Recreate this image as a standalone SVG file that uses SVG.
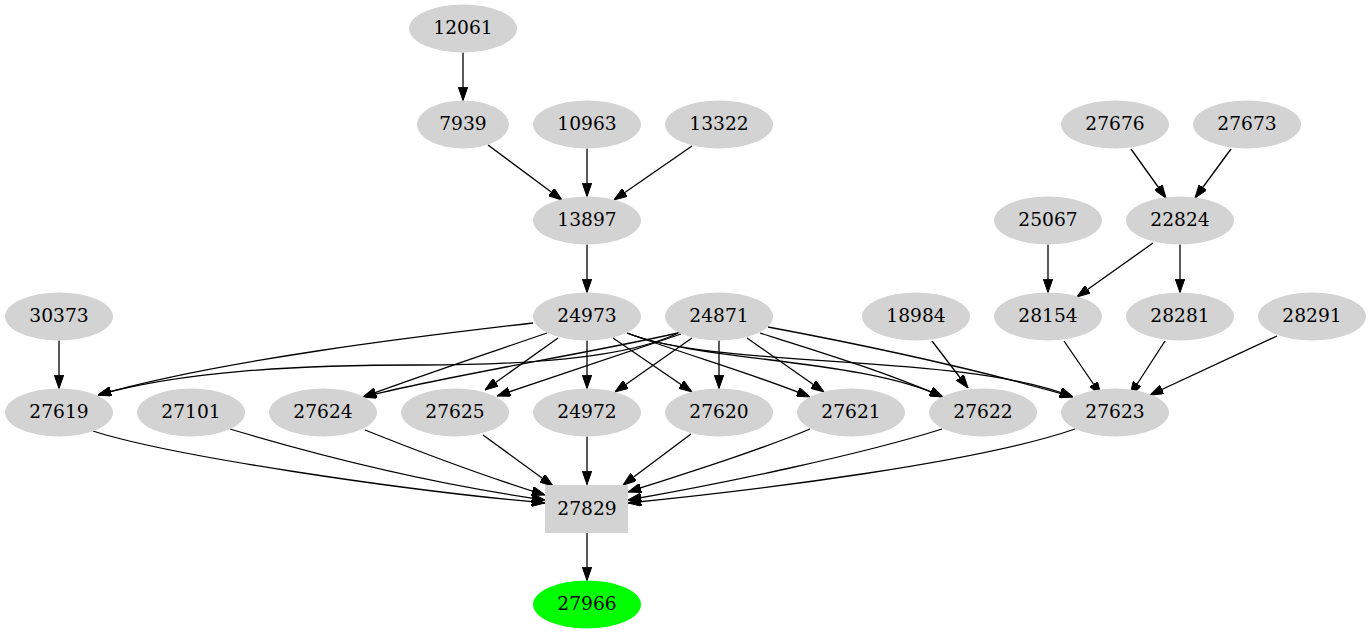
<svg xmlns="http://www.w3.org/2000/svg" width="1371" height="635" viewBox="0 0 1371 635">
<style>
.n ellipse, .n rect { fill: #d3d3d3; stroke: none; }
.g ellipse { fill: #00ff00; stroke: none; }
text { font-family: "DejaVu Serif", "Liberation Serif", serif; font-size: 18.67px; text-anchor: middle; fill: #000; }
#edges path { fill: none; stroke: #000; stroke-width: 1.3; marker-end: url(#arr); }
</style>
<defs>
<marker id="arr" markerUnits="userSpaceOnUse" viewBox="0 0 13.3 9.4" markerWidth="13.3" markerHeight="9.4" refX="13.3" refY="4.7" orient="auto">
<path d="M0,0 L13.3,4.7 L0,9.4 z" fill="#000" stroke="#000" stroke-width="1"/>
</marker>
</defs>
<rect width="1371" height="635" fill="#fff"/>
<g id="edges">
<path d="M463,52.5 L463,100.5"/>
<path d="M488,145 L562,200"/>
<path d="M587,148.5 L587,196.5"/>
<path d="M692,146 L614,200"/>
<path d="M587,244.5 L587,292.5"/>
<path d="M1131,149 L1166,198"/>
<path d="M1231,149 L1195,198"/>
<path d="M1048,244.5 L1048,292.5"/>
<path d="M1153,243 L1077,297"/>
<path d="M1180,244.5 L1180,292.5"/>
<path d="M1064,341 L1101,395"/>
<path d="M1165,341 L1130,395"/>
<path d="M1277,336 L1150,395"/>
<path d="M932,341 L968,388"/>
<path d="M59,340.5 L59,388.5"/>
<path d="M533,323 C420,336 220,360 98,395"/>
<path d="M547,333 C480,356 420,376 363,397"/>
<path d="M558,338 L485,390"/>
<path d="M587,340.5 L587,388.5"/>
<path d="M613,338 L692,392"/>
<path d="M627,333 C690,356 760,376 810,397"/>
<path d="M627,333 C700,362 860,358 943,397"/>
<path d="M627,333 C720,370 960,352 1073,397"/>
<path d="M680,332 C630,358 520,365 420,365 C290,365 180,372 98,395"/>
<path d="M678,333 C580,355 450,375 363,397"/>
<path d="M681,334 L497,396"/>
<path d="M692,338 L615,392"/>
<path d="M719,340.5 L719,388.5"/>
<path d="M747,338 L824,392"/>
<path d="M760,333 C820,352 880,370 943,397"/>
<path d="M768,327 C880,348 980,370 1073,397"/>
<path d="M93,431 C170,456 400,490 545,503"/>
<path d="M230,429 C300,450 420,482 545,500"/>
<path d="M365,430 C420,452 480,475 545,495"/>
<path d="M483,435 L553,486"/>
<path d="M587,436.5 L587,484.5"/>
<path d="M691,434 L623,485"/>
<path d="M810,429 C760,450 690,472 628,492"/>
<path d="M942,429 C860,455 720,484 628,500"/>
<path d="M1075,429 C980,462 760,490 628,503"/>
<path d="M587,532.5 L587,580.5"/>
</g>
<g id="n12061" class="n"><ellipse cx="463" cy="28.5" rx="54" ry="24"/><text x="463" y="34">12061</text></g>
<g id="n7939" class="n"><ellipse cx="463" cy="124.5" rx="46" ry="24"/><text x="463" y="130">7939</text></g>
<g id="n10963" class="n"><ellipse cx="587" cy="124.5" rx="54" ry="24"/><text x="587" y="130">10963</text></g>
<g id="n13322" class="n"><ellipse cx="719" cy="124.5" rx="54" ry="24"/><text x="719" y="130">13322</text></g>
<g id="n27676" class="n"><ellipse cx="1115" cy="124.5" rx="54" ry="24"/><text x="1115" y="130">27676</text></g>
<g id="n27673" class="n"><ellipse cx="1247" cy="124.5" rx="54" ry="24"/><text x="1247" y="130">27673</text></g>
<g id="n13897" class="n"><ellipse cx="587" cy="220.5" rx="54" ry="24"/><text x="587" y="226">13897</text></g>
<g id="n25067" class="n"><ellipse cx="1048" cy="220.5" rx="54" ry="24"/><text x="1048" y="226">25067</text></g>
<g id="n22824" class="n"><ellipse cx="1180" cy="220.5" rx="54" ry="24"/><text x="1180" y="226">22824</text></g>
<g id="n30373" class="n"><ellipse cx="59" cy="316.5" rx="54" ry="24"/><text x="59" y="322">30373</text></g>
<g id="n24973" class="n"><ellipse cx="587" cy="316.5" rx="54" ry="24"/><text x="587" y="322">24973</text></g>
<g id="n24871" class="n"><ellipse cx="719" cy="316.5" rx="54" ry="24"/><text x="719" y="322">24871</text></g>
<g id="n18984" class="n"><ellipse cx="916" cy="316.5" rx="54" ry="24"/><text x="916" y="322">18984</text></g>
<g id="n28154" class="n"><ellipse cx="1048" cy="316.5" rx="54" ry="24"/><text x="1048" y="322">28154</text></g>
<g id="n28281" class="n"><ellipse cx="1180" cy="316.5" rx="54" ry="24"/><text x="1180" y="322">28281</text></g>
<g id="n28291" class="n"><ellipse cx="1312" cy="316.5" rx="54" ry="24"/><text x="1312" y="322">28291</text></g>
<g id="n27619" class="n"><ellipse cx="59" cy="412.5" rx="54" ry="24"/><text x="59" y="418">27619</text></g>
<g id="n27101" class="n"><ellipse cx="191" cy="412.5" rx="54" ry="24"/><text x="191" y="418">27101</text></g>
<g id="n27624" class="n"><ellipse cx="323" cy="412.5" rx="54" ry="24"/><text x="323" y="418">27624</text></g>
<g id="n27625" class="n"><ellipse cx="455" cy="412.5" rx="54" ry="24"/><text x="455" y="418">27625</text></g>
<g id="n24972" class="n"><ellipse cx="587" cy="412.5" rx="54" ry="24"/><text x="587" y="418">24972</text></g>
<g id="n27620" class="n"><ellipse cx="719" cy="412.5" rx="54" ry="24"/><text x="719" y="418">27620</text></g>
<g id="n27621" class="n"><ellipse cx="851" cy="412.5" rx="54" ry="24"/><text x="851" y="418">27621</text></g>
<g id="n27622" class="n"><ellipse cx="983" cy="412.5" rx="54" ry="24"/><text x="983" y="418">27622</text></g>
<g id="n27623" class="n"><ellipse cx="1115" cy="412.5" rx="54" ry="24"/><text x="1115" y="418">27623</text></g>
<g id="n27829" class="n"><rect x="545" y="485" width="83" height="48"/><text x="587" y="514.5">27829</text></g>
<g id="n27966" class="g"><ellipse cx="587" cy="604.5" rx="54" ry="24"/><text x="587" y="610">27966</text></g>
</svg>
